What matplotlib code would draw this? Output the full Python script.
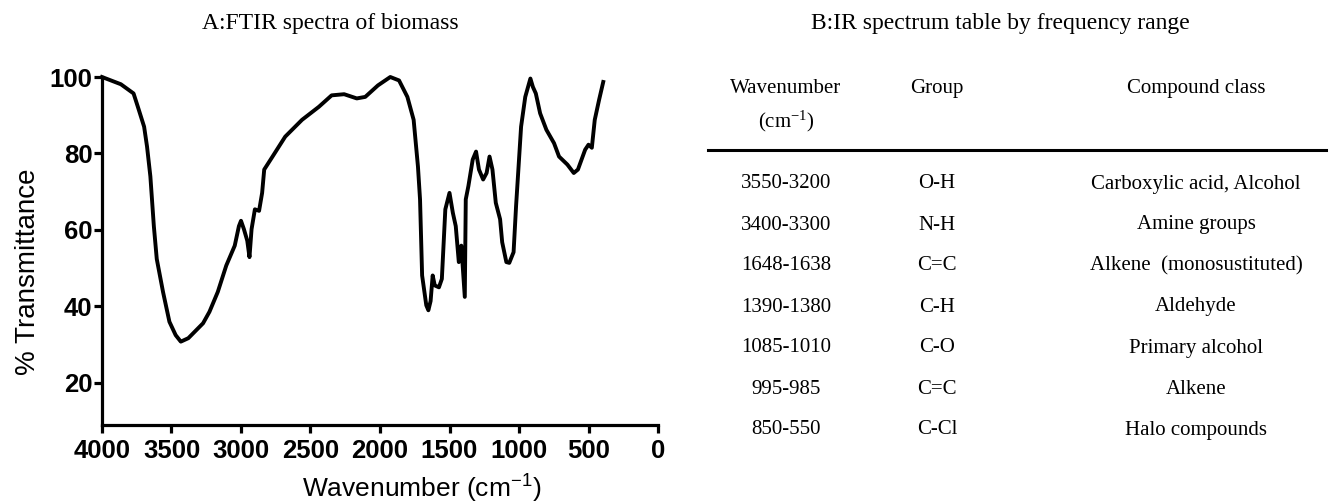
import numpy as np
import matplotlib
matplotlib.use('Agg')
import matplotlib.pyplot as plt

plt.rcParams['mathtext.default'] = 'regular'

# FTIR spectrum
wavenumber = [4000, 3864, 3773, 3742, 3697, 3676, 3652, 3627, 3606, 3561,
              3515, 3470, 3433, 3379, 3273, 3227, 3167, 3106, 3045, 3015,
              3000, 2979, 2955, 2939, 2924, 2900, 2870, 2848, 2833, 2773,
              2682, 2561, 2440, 2348, 2258, 2167, 2106, 2015, 1926, 1863,
              1803, 1758, 1727, 1712, 1697, 1667, 1652, 1636, 1621, 1606,
              1576, 1555, 1530, 1500, 1476, 1455, 1433, 1415, 1390, 1383,
              1364, 1333, 1309, 1288, 1258, 1233, 1212, 1191, 1167, 1136,
              1121, 1091, 1070, 1039, 1021, 1009, 985, 955, 918, 900,
              879, 848, 803, 748, 712, 652, 606, 576, 524, 500,
              476, 455, 424, 394]
transmittance = [100, 98.1, 95.7, 92.2, 87, 81.8, 74, 61, 52.4, 43.8,
                 36, 32.5, 30.8, 31.7, 35.6, 38.6, 43.8, 50.7, 55.9, 61,
                 62.4, 60.2, 57.2, 52.9, 60.2, 65.4, 65, 69.7, 75.8, 79.2,
                 84.4, 88.8, 92.2, 95.2, 95.5, 94.4, 94.8, 97.8, 100, 99.1,
                 94.8, 88.8, 76.6, 68, 48.1, 40.3, 39, 41.4, 48.1, 45.5,
                 45, 47.2, 65.4, 69.7, 64.5, 61, 51.6, 55.9, 42.5, 68,
                 71.5, 78.4, 80.5, 75.8, 73.2, 74.9, 79.2, 75.8, 67.1, 62.8,
                 56.8, 51.6, 51.4, 54.2, 66.3, 73.2, 87, 94.8, 99.6, 97.4,
                 95.7, 90.5, 86.2, 82.7, 79.2, 77.1, 74.9, 75.8, 81, 82.3,
                 81.5, 88.8, 94, 98.7]

x_ticks = [4000, 3500, 3000, 2500, 2000, 1500, 1000, 500, 0]
y_ticks = [20, 40, 60, 80, 100]

# IR table
table_header = ['Wavenumber\n(cm$^{-1}$)', 'Group', 'Compound class']
wn_ranges = ['3550-3200', '3400-3300', '1648-1638', '1390-1380',
             '1085-1010', '995-985', '850-550']
groups = ['O-H', 'N-H', 'C=C', 'C-H', 'C-O', 'C=C', 'C-Cl']
compound_classes = ['Carboxylic acid, Alcohol', 'Amine groups',
                    'Alkene  (monosustituted)', 'Aldehyde',
                    'Primary alcohol', 'Alkene', 'Halo compounds']


def main():
    fig = plt.figure(figsize=(13.31, 5.03), dpi=100)

    ax = fig.add_axes([102 / 1331, 1 - 425 / 503, 556 / 1331, 348 / 503])
    ax.plot(wavenumber, transmittance, color='black', lw=2.8,
            solid_joinstyle='round', clip_on=False)
    ax.set_xlim(4000, 0)
    ax.set_ylim(9, 100)
    ax.set_xticks(x_ticks)
    ax.set_yticks(y_ticks)
    for s in ['top', 'right']:
        ax.spines[s].set_visible(False)
    for s in ['left', 'bottom']:
        ax.spines[s].set_linewidth(2.3)
    ax.tick_params(width=2.3, length=6, direction='out')
    ax.tick_params(axis='y', pad=1)
    ax.tick_params(axis='x', pad=4)
    for lab in ax.get_xticklabels() + ax.get_yticklabels():
        lab.set_family('Liberation Sans')
        lab.set_fontweight('bold')
        lab.set_fontsize(18.5)

    fig.text(422 / 1331, 1 - 489 / 503, 'Wavenumber (cm$^{-1}$)',
             family='Liberation Sans', fontsize=19, ha='center', va='center')
    fig.text(28 / 1331, 1 - 272 / 503, '% Transmittance',
             family='Liberation Sans', fontsize=20, ha='center', va='center',
             rotation=90)

    fig.text(330 / 1331, 1 - 24 / 503, 'A:FTIR spectra of biomass',
             family='Liberation Serif', fontsize=17, ha='center', va='center')
    fig.text(1000 / 1331, 1 - 24 / 503,
             'B:IR spectrum table by frequency range',
             family='Liberation Serif', fontsize=17, ha='center', va='center')

    # table drawn on a pixel-coordinate overlay axes
    tb = fig.add_axes([0, 0, 1, 1])
    tb.set_xlim(0, 1331)
    tb.set_ylim(503, 0)
    tb.axis('off')
    col_x = [786, 937, 1196]
    tfont = dict(family='Liberation Serif', fontsize=15, ha='center')
    tb.text(col_x[0], 88, 'Wavenumber', va='center', **tfont)
    tb.text(col_x[0], 121, '(cm$^{-1}$)', va='center', **tfont)
    tb.text(col_x[1], 88, table_header[1], va='center', **tfont)
    tb.text(col_x[2], 88, table_header[2], va='center', **tfont)
    tb.plot([708, 1326], [150, 150], color='black', lw=2.2)
    for i in range(len(wn_ranges)):
        y = 184 + 41 * i
        tb.text(col_x[0], y, wn_ranges[i], va='center', **tfont)
        tb.text(col_x[1], y, groups[i], va='center', **tfont)
        tb.text(col_x[2], y, compound_classes[i], va='center', **tfont)

    fig.savefig('out.png', dpi=100)


if __name__ == '__main__':
    main()
